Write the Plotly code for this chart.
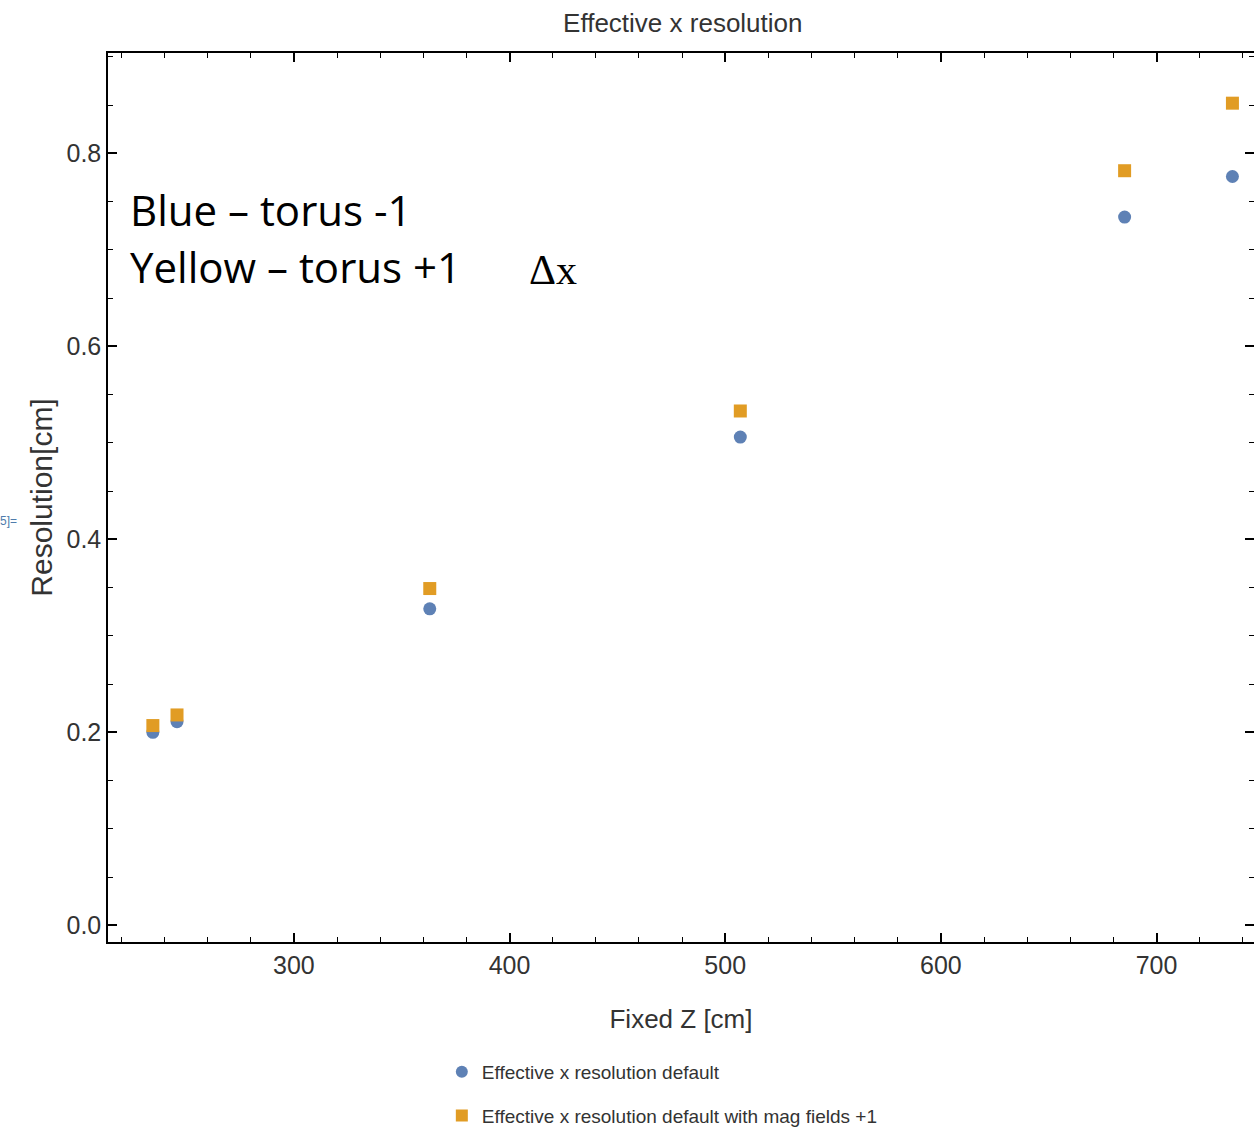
import plotly.graph_objects as go

z_cm = [234.6, 245.8, 363.0, 507.0, 685.2, 735.2]
res_default = [0.200, 0.211, 0.328, 0.506, 0.734, 0.776]
res_mag_plus1 = [0.207, 0.218, 0.349, 0.533, 0.782, 0.852]

name_default = "Effective x resolution default"
name_mag = "Effective x resolution default with mag fields +1"

BLUE = "#5E81B5"
ORANGE = "#E19C24"
SANS = "Liberation Sans, Arial"

fig = go.Figure()
fig.add_trace(go.Scatter(x=z_cm, y=res_default, mode="markers", name=name_default,
                         legendgroup="a",
                         marker=dict(symbol="circle", size=13, color=BLUE)))
fig.add_trace(go.Scatter(x=z_cm, y=res_mag_plus1, mode="markers", name=name_mag,
                         legendgroup="b",
                         marker=dict(symbol="square", size=13, color=ORANGE)))

axis_common = dict(showline=True, linecolor="black", linewidth=1.5, mirror="ticks",
                   ticks="inside", tickcolor="black", showgrid=False, zeroline=False,
                   automargin=False,
                   tickfont=dict(family=SANS, size=25, color="#333333"))

fig.update_xaxes(range=[213.8, 745.2], tickmode="array", tickvals=[300, 400, 500, 600, 700],
                 ticklen=9, tickwidth=1.5,
                 minor=dict(ticks="inside", dtick=20, tick0=200, ticklen=5, tickcolor="black", tickwidth=1),
                 title=dict(text="Fixed Z [cm]", font=dict(family=SANS, size=26, color="#333333"), standoff=32),
                 **axis_common)
fig.update_yaxes(range=[-0.0173, 0.904], tickmode="array", tickvals=[0.0, 0.2, 0.4, 0.6, 0.8],
                 ticktext=["0.0", "0.2", "0.4", "0.6", "0.8"],
                 ticklen=9, tickwidth=1.5,
                 minor=dict(ticks="inside", dtick=0.05, tick0=0, ticklen=5, tickcolor="black", tickwidth=1),
                 title=dict(text="Resolution[cm]", font=dict(family=SANS, size=30, color="#333333"), standoff=5),
                 **axis_common)

fig.update_layout(
    width=1254, height=1128,
    margin=dict(l=108, r=0, t=53, b=186, autoexpand=False),
    paper_bgcolor="white", plot_bgcolor="white",
    title=dict(text="Effective x resolution", x=0.5445, xanchor="center", y=0.98, yanchor="middle",
               font=dict(family=SANS, size=26, color="#333333")),
    legend=dict(x=0.2913, xanchor="left", y=0.0665, yref="container", yanchor="top", orientation="v",
                font=dict(family=SANS, size=19, color="#333333"), tracegroupgap=16,
                itemsizing="constant", bgcolor="rgba(0,0,0,0)"),
    showlegend=True,
)

fig.add_annotation(xref="paper", yref="paper", x=0.0175, y=0.824, xanchor="left", yanchor="middle",
                   text="Blue – torus -1", showarrow=False, align="left",
                   font=dict(family="Open Sans, Noto Sans, Liberation Sans", size=42, color="black"))
fig.add_annotation(xref="paper", yref="paper", x=0.0175, y=0.76, xanchor="left", yanchor="middle",
                   text="Yellow – torus +1", showarrow=False, align="left",
                   font=dict(family="Open Sans, Noto Sans, Liberation Sans", size=42, color="black"))
fig.add_annotation(xref="paper", yref="paper", x=0.366, y=0.756, xanchor="left", yanchor="middle",
                   text="Δx", showarrow=False,
                   font=dict(family="Liberation Serif, DejaVu Serif", size=42, color="black"))
fig.add_annotation(xref="paper", yref="paper", x=-0.096, y=0.4736, xanchor="left", yanchor="middle",
                   text="5]=", showarrow=False,
                   font=dict(family=SANS, size=12, color="#4F7CAC"))

fig.write_html("out.html")
